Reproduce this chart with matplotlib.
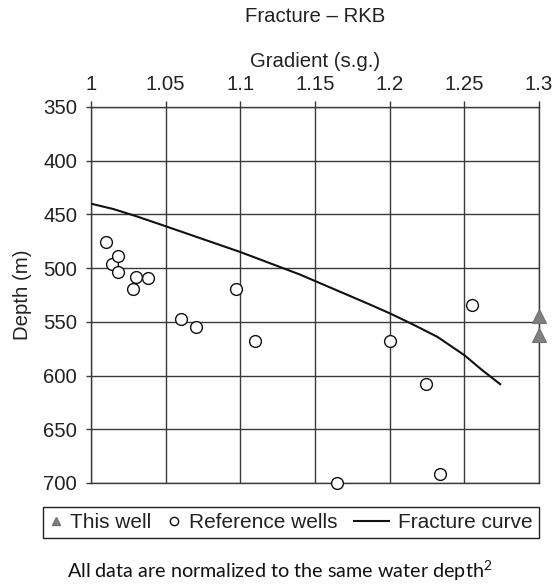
import numpy as np
import matplotlib
matplotlib.use("Agg")
import matplotlib.pyplot as plt
from matplotlib.lines import Line2D
from matplotlib.legend_handler import HandlerLine2D

plt.rcParams['font.family'] = ['Liberation Sans', 'DejaVu Sans']

# Reference wells (gradient s.g., depth m)
ref_grad = [1.010, 1.014, 1.018, 1.018, 1.028, 1.030, 1.038, 1.060, 1.070,
            1.097, 1.110, 1.200, 1.224, 1.255, 1.165, 1.234]
ref_depth = [476, 496, 489, 504, 519, 508, 509, 547, 555,
             519, 568, 568, 608, 534, 700, 692]

# This well
well_grad = [1.30, 1.30]
well_depth = [545, 562]

# Fracture curve
frac_grad = [1.000, 1.015, 1.031, 1.050, 1.100, 1.140, 1.187, 1.200,
             1.215, 1.232, 1.250, 1.262, 1.274]
frac_depth = [440, 445, 452, 461, 485, 506, 534, 542,
              552, 564, 581, 595, 608]

xticks = [1, 1.05, 1.1, 1.15, 1.2, 1.25, 1.3]
xticklabels = ["1", "1.05", "1.1", "1.15", "1.2", "1.25", "1.3"]
yticks = [350, 400, 450, 500, 550, 600, 650, 700]

grid_c = '#3a3a3a'
txt_c = '#222222'

fig = plt.figure(figsize=(5.55, 5.84), dpi=100)
ax = fig.add_axes([91 / 555, 1 - 483 / 584, 448 / 555, 376 / 584])

ax.plot(frac_grad, frac_depth, color='#111111', lw=1.5, zorder=3)
ax.plot(ref_grad, ref_depth, 'o', ms=8.5, mfc='white', mec='#111111', mew=1.0,
        zorder=4, clip_on=False)
ax.plot(well_grad, well_depth, '^', ms=10, mfc='#808080', mec='#707070',
        mew=0.8, zorder=5, clip_on=False)

ax.set_xlim(1, 1.3)
ax.set_ylim(700, 350)
ax.set_xticks(xticks)
ax.set_xticklabels(xticklabels)
ax.set_yticks(yticks)
ax.xaxis.tick_top()
ax.xaxis.set_label_position('top')
ax.tick_params(axis='both', labelsize=14.7, colors=grid_c, labelcolor=txt_c,
               width=1.0)
ax.tick_params(axis='y', length=3.6, pad=6.4)
ax.tick_params(axis='x', length=4.3, pad=5.0)
ax.grid(True, color=grid_c, lw=1.0)
for s in ax.spines.values():
    s.set_color(grid_c)
    s.set_linewidth(1.0)

ax.set_xlabel('Gradient (s.g.)', fontsize=14.7, color=txt_c)
ax.xaxis.set_label_coords(0.5, (483 - 67) / 376)
ax.set_ylabel('Depth (m)', fontsize=14.7, color=txt_c)
ax.yaxis.set_label_coords((32 - 91) / 448, 0.5)
fig.text(315 / 555, 1 - 16 / 584, 'Fracture \u2013 RKB', fontsize=14.7,
         color=txt_c, ha='center', va='center')

handles = [
    Line2D([], [], ls='none', marker='^', ms=6, mfc='#808080', mec='#707070'),
    Line2D([], [], ls='none', marker='o', ms=6, mfc='white', mec='#111111'),
    Line2D([], [], color='#111111', lw=1.5),
]
labels = ['This well', 'Reference wells    ', 'Fracture curve']
leg = fig.legend(handles, labels, loc='center left', ncol=3,
                 bbox_to_anchor=(43 / 555, 1 - 522.5 / 584),
                 fontsize=15, frameon=True, fancybox=False, framealpha=1,
                 edgecolor=txt_c, handlelength=0.6, handletextpad=0.42,
                 columnspacing=0.77, borderpad=0.3, borderaxespad=0,
                 handler_map={handles[2]: HandlerLine2D(xpad=-1.08)})
leg.get_frame().set_linewidth(1.0)
for t in leg.get_texts():
    t.set_color(txt_c)

fig.text(280 / 555, 1 - 578 / 584,
         r'All data are normalized to the same water depth$^\mathregular{2}$',
         fontsize=14.2, family=['Lato', 'DejaVu Sans'], color='#111111',
         ha='center', va='baseline')

fig.savefig('out.png', dpi=100)
